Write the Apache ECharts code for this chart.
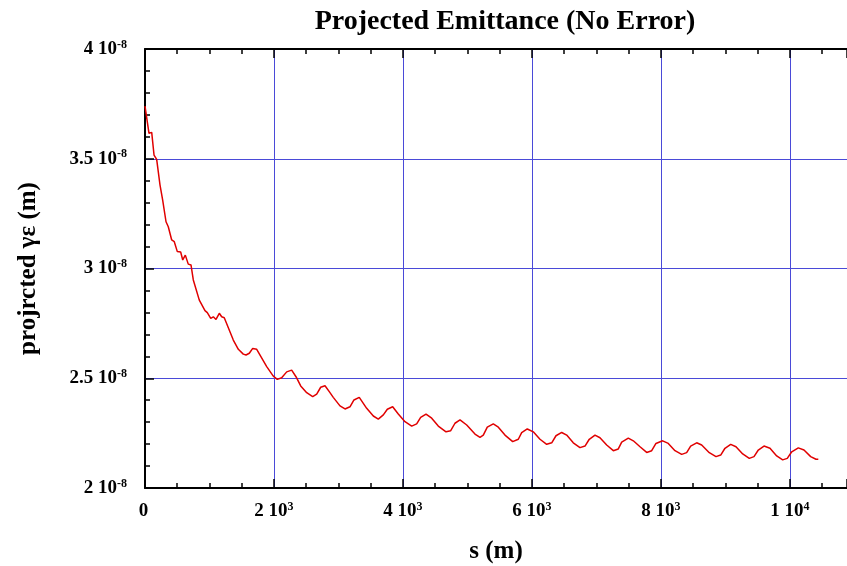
<!DOCTYPE html>
<html>
<head>
<meta charset="utf-8">
<title>Projected Emittance (No Error)</title>
<script src="https://cdn.jsdelivr.net/npm/echarts@6/dist/echarts.min.js"></script>
<style>
  html, body { margin: 0; padding: 0; background: #fff; }
  #chart { width: 847px; height: 566px; }
</style>
</head>
<body>
<div id="chart"></div>
<script>
// s along the line (m)
var sPos = [0, 26, 62, 104, 140, 181, 233, 274, 326, 361, 414, 454, 501, 553, 585, 625, 671, 713, 749,
  842, 930, 966, 1019, 1059, 1101, 1152, 1189, 1229, 1369, 1447, 1524, 1566, 1617, 1670, 1732, 1757,
  1887, 1989, 2051, 2119, 2197, 2274, 2341, 2414, 2507, 2600, 2662, 2724, 2791, 2857,
  2919, 3023, 3101, 3178, 3240, 3322, 3437, 3540, 3617, 3695, 3757, 3840, 3927, 4031, 4135, 4212,
  4274, 4357, 4445, 4547, 4667, 4740, 4806, 4884, 4988, 5116, 5194, 5245, 5307, 5400, 5478, 5581,
  5701, 5788, 5840, 5927, 6020, 6124, 6228, 6306, 6372, 6461, 6538, 6640, 6744, 6822, 6888, 6977,
  7054, 7158, 7261, 7338, 7391, 7493, 7571, 7675, 7778, 7856, 7922, 8026, 8113, 8217, 8321, 8398,
  8460, 8553, 8631, 8749, 8853, 8926, 8992, 9081, 9163, 9267, 9369, 9442, 9509, 9597, 9690, 9794,
  9887, 9958, 10027, 10129, 10217, 10321, 10403, 10439];
// projected emittance, in units of 1e-8 m
var emit = [3.74, 3.737, 3.616, 3.62, 3.517, 3.497, 3.38, 3.312, 3.213, 3.19, 3.13, 3.122, 3.077, 3.075, 3.039, 3.061, 3.02, 3.016, 2.948,
  2.856, 2.808, 2.799, 2.773, 2.780, 2.768, 2.796, 2.780, 2.776, 2.674, 2.632, 2.610, 2.606, 2.614, 2.636, 2.632, 2.633,
  2.553, 2.510, 2.495, 2.502, 2.529, 2.537, 2.507, 2.465, 2.434, 2.416, 2.428, 2.459, 2.466, 2.439,
  2.413, 2.374, 2.360, 2.370, 2.401, 2.413, 2.363, 2.328, 2.314, 2.333, 2.359, 2.370, 2.337, 2.302, 2.282, 2.292,
  2.322, 2.337, 2.318, 2.282, 2.256, 2.261, 2.295, 2.310, 2.287, 2.246, 2.231, 2.241, 2.277, 2.292, 2.277, 2.241,
  2.211, 2.222, 2.252, 2.269, 2.256, 2.222, 2.199, 2.206, 2.238, 2.253, 2.241, 2.206, 2.184, 2.191, 2.222, 2.241,
  2.229, 2.196, 2.170, 2.178, 2.209, 2.227, 2.215, 2.188, 2.162, 2.170, 2.203, 2.215, 2.203, 2.170, 2.153, 2.161,
  2.191, 2.206, 2.196, 2.161, 2.143, 2.150, 2.181, 2.199, 2.188, 2.155, 2.135, 2.143, 2.173, 2.191, 2.181, 2.146,
  2.128, 2.135, 2.165, 2.183, 2.173, 2.143, 2.131, 2.131];

var font = 'Liberation Serif';
var chart = echarts.init(document.getElementById('chart'));

function sciLabel(v, exp) {
  // "2 10^3" style labels
  return v + ' 10{sup|' + exp + '}';
}
var labelRich = {
  sup: { fontFamily: font, fontWeight: 'bold', fontSize: 12, verticalAlign: 'top', padding: [0, 0, 9, 0], color: '#000' }
};

var tickStyle = { color: '#000', width: 1.5 };
// the plot runs off the right edge of the picture
var sMax = 10884;

chart.setOption({
  animation: false,
  backgroundColor: '#fff',
  title: {
    text: 'Projected Emittance (No Error)',
    left: 500,
    textAlign: 'center',
    top: 3,
    textStyle: { fontFamily: font, fontWeight: 'bold', fontSize: 28, color: '#000' }
  },
  grid: { left: 145, top: 49, right: 0, height: 439, containLabel: false, outerBoundsMode: 'none' },
  xAxis: [{
    type: 'value',
    min: 0,
    max: sMax,
    interval: 2000,
    position: 'bottom',
    name: 's (m)',
    nameLocation: 'middle',
    nameGap: 51,
    nameTextStyle: { fontFamily: font, fontWeight: 'bold', fontSize: 25, color: '#000' },
    axisLine: { onZero: false, lineStyle: { color: '#000', width: 2 } },
    axisTick: { inside: true, length: 9, lineStyle: tickStyle },
    minorTick: { show: true, splitNumber: 4, length: 5, lineStyle: tickStyle },
    splitLine: { show: true, lineStyle: { color: '#4a4ad8', width: 1 } },
    axisLabel: {
      margin: 13,
      fontFamily: font, fontWeight: 'bold', fontSize: 19, color: '#000',
      formatter: function (v) {
        if (v === 0) return '0{sup| }';
        var e = Math.floor(Math.log10(v) + 1e-9);
        return sciLabel(Math.round(v / Math.pow(10, e)), e);
      },
      rich: labelRich,
      showMaxLabel: false
    }
  }, {
    type: 'value',
    min: 0,
    max: sMax,
    interval: 2000,
    position: 'top',
    axisLine: { onZero: false, lineStyle: { color: '#000', width: 2 } },
    axisTick: { inside: true, length: 9, lineStyle: tickStyle },
    minorTick: { show: true, splitNumber: 4, length: 5, lineStyle: tickStyle },
    splitLine: { show: false },
    axisLabel: { show: false }
  }],
  yAxis: [{
    type: 'value',
    min: 2,
    max: 4,
    interval: 0.5,
    name: 'projrcted γε (m)',
    nameLocation: 'middle',
    nameGap: 104,
    nameTextStyle: { fontFamily: font, fontWeight: 'bold', fontSize: 25, color: '#000' },
    axisLine: { onZero: false, lineStyle: { color: '#000', width: 2 } },
    axisTick: { inside: true, length: 9, lineStyle: tickStyle },
    minorTick: { show: true, splitNumber: 5, length: 5, lineStyle: tickStyle },
    splitLine: { show: true, lineStyle: { color: '#4a4ad8', width: 1 } },
    axisLabel: {
      margin: 18,
      fontFamily: font, fontWeight: 'bold', fontSize: 19, color: '#000',
      formatter: function (v) { return sciLabel(v, -8); },
      rich: labelRich
    }
  }],
  series: [{
    type: 'line',
    data: sPos.map(function (s, i) { return [s, emit[i]]; }),
    showSymbol: false,
    symbol: 'none',
    lineStyle: { color: '#e00000', width: 1.5 }
  }]
});
</script>
</body>
</html>
